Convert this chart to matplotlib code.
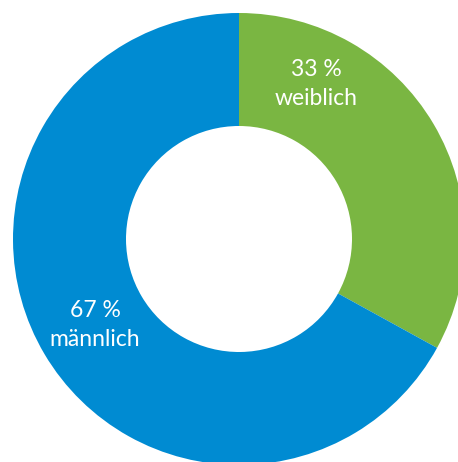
import matplotlib
matplotlib.use("Agg")
import matplotlib.pyplot as plt

# Anteile nach Geschlecht
labels = ["weiblich", "männlich"]
values = [33, 67]
colors = ["#7ab642", "#008bd2"]

plt.rcParams['font.family'] = ['Lato', 'DejaVu Sans']

fig = plt.figure(figsize=(4.58, 4.62), dpi=100)
ax = fig.add_axes([0, 0, 1, 1])

R = 226.0
cx, cy = 239.0, 239.0
W, H = 458.0, 462.0

ax.pie(values, colors=colors, startangle=90, counterclock=False,
       radius=1.0, wedgeprops=dict(width=0.5, linewidth=0))

ax.set_xlim(-cx / R, (W - cx) / R)
ax.set_ylim(-(H - cy) / R, cy / R)
ax.set_aspect('equal')
ax.axis('off')

# Beschriftungen (Pixelpositionen der Vorlage)
label_pos = [(316, 84), (95, 325)]
for lab, val, (px, py) in zip(labels, values, label_pos):
    ax.text((px - cx) / R, (cy - py) / R, f"{val} %\n{lab}", color="white",
            ha="center", va="center", fontsize=16.5, fontweight="normal",
            linespacing=1.45)

fig.savefig("out.png", dpi=100)
